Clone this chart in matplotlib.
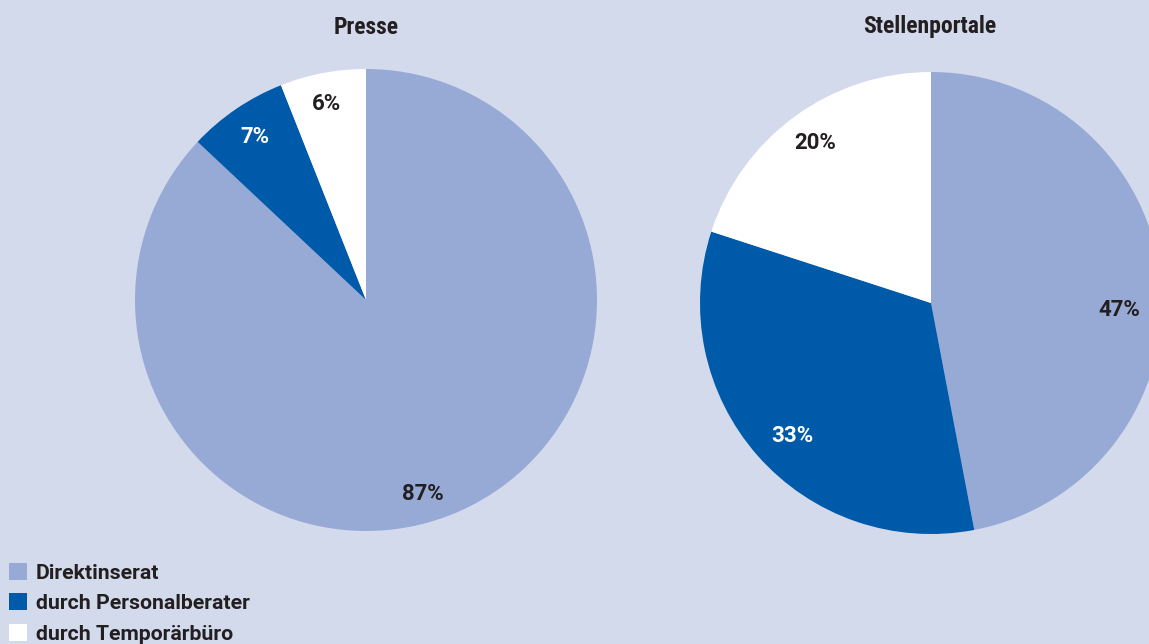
import matplotlib
matplotlib.use("Agg")
import matplotlib.pyplot as plt
import numpy as np

# Data
categories = ["Direktinserat", "durch Personalberater", "durch Temporärbüro"]
presse_values = [87, 7, 6]
portale_values = [47, 33, 20]
titles = ["Presse", "Stellenportale"]

colors = ["#97aad6", "#005aaa", "#ffffff"]
label_colors = ["#231f20", "#ffffff", "#231f20"]
bg = "#d3daec"
font = ["Roboto", "DejaVu Sans"]
title_font = ["Roboto Condensed", "DejaVu Sans"]

W, H = 1149, 644
fig = plt.figure(figsize=(W / 100, H / 100), dpi=100, facecolor=bg)


def pie_axes(cx, cy, r):
    return fig.add_axes([(cx - r) / W, (H - cy - r) / H, 2 * r / W, 2 * r / H])


def draw_pie(ax, values, nudges):
    ax.set_facecolor(bg)
    wedges, _ = ax.pie(values, colors=colors, startangle=90, counterclock=False,
                       radius=1, wedgeprops=dict(linewidth=0))
    total = sum(values)
    start = 90.0
    for i, v in enumerate(values):
        span = 360.0 * v / total
        mid = start - span / 2 + nudges[i][0]
        dist = nudges[i][1]
        start -= span
        ax.text(dist * np.cos(np.radians(mid)), dist * np.sin(np.radians(mid)),
                f"{v}%", ha="center", va="center", fontsize=16,
                fontweight="bold", family=font, color=label_colors[i])
    ax.set_xlim(-1, 1)
    ax.set_ylim(-1, 1)
    ax.set_aspect("equal")
    ax.axis("off")
    return wedges


ax1 = pie_axes(366, 300, 231)
wedges = draw_pie(ax1, presse_values, [(-7, 0.875), (0, 0.855), (0.5, 0.865)])
ax2 = pie_axes(931, 303, 231)
draw_pie(ax2, portale_values, [(-7.5, 0.815), (2.5, 0.83), (0, 0.855)])

for cx, title in zip((366, 930), titles):
    fig.text(cx / W, 1 - 27 / H, title, ha="center", va="center", fontsize=17,
             fontweight="bold", family=title_font, color="#231f20")

leg = fig.legend(wedges, categories, loc="upper left",
                 bbox_to_anchor=(9 / W, 1 - 563 / H), frameon=False,
                 borderpad=0, borderaxespad=0, handlelength=0.85,
                 handleheight=0.85, handletextpad=0.4, labelspacing=0.5,
                 prop=dict(family=font, weight="bold", size=15.3))
for t in leg.get_texts():
    t.set_color("#231f20")

fig.savefig("out.png", dpi=100, facecolor=bg)
